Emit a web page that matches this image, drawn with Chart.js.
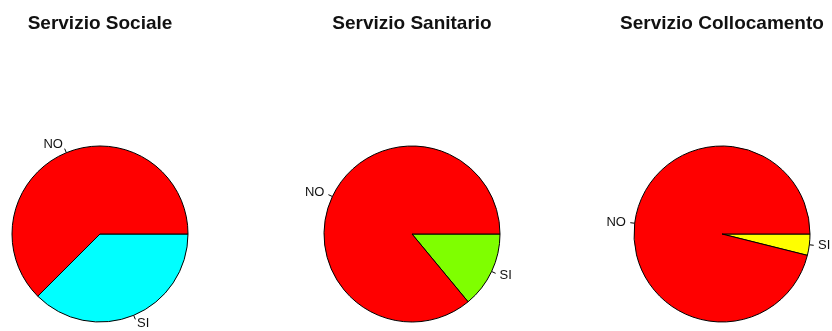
<!DOCTYPE html>
<html lang="it">
<head>
  <meta charset="UTF-8" />
  <title>Servizi - grafici a torta</title>
  <script src="https://cdn.jsdelivr.net/npm/chart.js"></script>
  <style>
    html, body {
      margin: 0;
      padding: 0;
      background: #ffffff;
      width: 832px;
      height: 331px;
      overflow: hidden;
      position: relative;
    }
    canvas {
      position: absolute;
      top: 0;
    }
  </style>
</head>
<body>
  <canvas id="pie0" width="310" height="331"></canvas>
  <canvas id="pie1" width="310" height="331"></canvas>
  <canvas id="pie2" width="310" height="331"></canvas>

  <script>
    // data (percent of answers)
    const titles = ["Servizio Sociale", "Servizio Sanitario", "Servizio Collocamento"];
    const categories = ["NO", "SI"];
    const noValues = [62.5, 86.0, 96.1];
    const siValues = [37.5, 14.0, 3.9];

    // look
    const noColor = "#ff0000";
    const siColors = ["#00ffff", "#7fff00", "#ffff00"];
    const centersX = [100, 412, 722];
    const canvasW = 310;
    const pieRadius = 88;

    // draws the panel title and R-style slice labels with little tick marks
    const pieDecor = {
      id: "pieDecor",
      afterDatasetsDraw(chart, args, opts) {
        const ctx = chart.ctx;
        ctx.save();

        ctx.fillStyle = "#111";
        ctx.font = "bold 19px 'Liberation Sans', Arial, sans-serif";
        ctx.textAlign = "center";
        ctx.textBaseline = "middle";
        ctx.fillText(opts.title, chart.width / 2, 24);

        const meta = chart.getDatasetMeta(0);
        const labels = chart.data.labels;
        ctx.font = "13px 'Liberation Sans', Arial, sans-serif";
        ctx.strokeStyle = "#000";
        ctx.lineWidth = 1;
        meta.data.forEach((arc, i) => {
          const p = arc.getProps(["x", "y", "startAngle", "endAngle", "outerRadius"], true);
          const mid = (p.startAngle + p.endAngle) / 2;
          const c = Math.cos(mid), s = Math.sin(mid);
          const r = p.outerRadius;
          ctx.beginPath();
          ctx.moveTo(p.x + c * r, p.y + s * r);
          ctx.lineTo(p.x + c * r * 1.05, p.y + s * r * 1.05);
          ctx.stroke();
          ctx.textAlign = c >= 0 ? "left" : "right";
          ctx.textBaseline = "middle";
          ctx.fillText(labels[i], p.x + c * r * 1.1, p.y + s * r * 1.1);
        });
        ctx.restore();
      }
    };

    titles.forEach((title, k) => {
      const canvas = document.getElementById("pie" + k);
      canvas.style.left = (centersX[k] - canvasW / 2) + "px";

      // R draws counter-clockwise from 3 o'clock; Chart.js goes clockwise,
      // so the order is flipped and the start is turned to 3 o'clock
      new Chart(canvas.getContext("2d"), {
        type: "pie",
        data: {
          labels: [categories[1], categories[0]],
          datasets: [{
            data: [siValues[k], noValues[k]],
            backgroundColor: [siColors[k], noColor],
            borderColor: "#000",
            borderWidth: 1,
            borderAlign: "center"
          }]
        },
        options: {
          responsive: false,
          animation: false,
          rotation: 90,
          radius: pieRadius,
          layout: { padding: { top: 146, bottom: 9, left: 0, right: 0 } },
          plugins: {
            legend: { display: false },
            tooltip: { enabled: false },
            title: { display: false },
            pieDecor: { title: title }
          }
        },
        plugins: [pieDecor]
      });
    });
  </script>
</body>
</html>
